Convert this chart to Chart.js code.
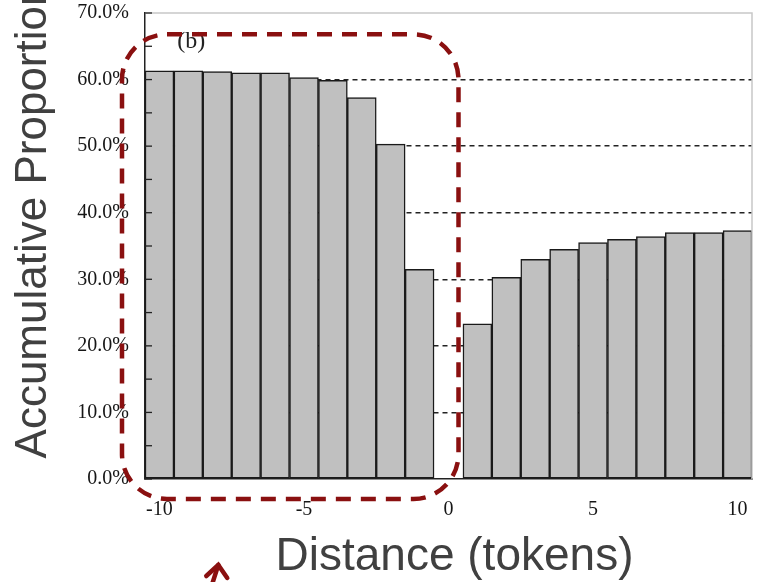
<!DOCTYPE html>
<html><head><meta charset="utf-8">
<script src="https://cdn.jsdelivr.net/npm/chart.js@4/dist/chart.umd.min.js"></script>
<style>html,body{margin:0;padding:0;background:#fff;overflow:hidden;} canvas{display:block;}</style>
</head><body>
<canvas id="c" width="757" height="582"></canvas>
<script>
const categories = ['-10','-9','-8','-7','-6','-5','-4','-3','-2','-1','0','1','2','3','4','5','6','7','8','9','10'];
const proportions = [61.3, 61.3, 61.2, 61.0, 61.0, 60.3, 59.9, 57.3, 50.3, 31.5, null, 23.3, 30.3, 33.0, 34.5, 35.5, 36.0, 36.4, 37.0, 37.0, 37.3];
const xTickLabels = ['-10','-5','0','5','10'];
const yTickMax = 70;
const yTickStep = 10;
const panelLabel = '(b)';
const xTitle = 'Distance (tokens)';
const yTitle = 'Accumulative Proportion';

const decor = {
  id: 'decor',
  afterDraw(chart) {
    const ctx = chart.ctx, a = chart.chartArea;
    const xs = chart.scales.x, ys = chart.scales.y;
    ctx.save();
    // light top/right frame
    ctx.strokeStyle = '#c8c8c8'; ctx.lineWidth = 1.5;
    ctx.beginPath(); ctx.moveTo(a.left, a.top); ctx.lineTo(a.right, a.top); ctx.lineTo(a.right, a.bottom); ctx.stroke();
    // inner minor ticks on y axis
    ctx.strokeStyle = '#222'; ctx.lineWidth = 1.3;
    for (let v = 0; v <= yTickMax; v += yTickStep / 2) {
      const y = ys.getPixelForValue(v);
      ctx.beginPath(); ctx.moveTo(a.left, y); ctx.lineTo(a.left + 7, y); ctx.stroke();
    }
    // panel label
    ctx.fillStyle = '#222';
    ctx.font = '24px "Liberation Serif", serif';
    ctx.textAlign = 'center'; ctx.textBaseline = 'middle';
    ctx.fillText(panelLabel, xs.getPixelForValue(1) + 3, ys.getPixelForValue(65.7));
    // axis titles
    ctx.fillStyle = '#404040';
    ctx.font = '46px "Liberation Sans", Arial, sans-serif';
    ctx.fillText(xTitle, (a.left + a.right) / 2 + 6, chart.height - 25);
    ctx.save();
    ctx.translate(34, (a.top + a.bottom) / 2 - 26);
    ctx.rotate(-Math.PI / 2);
    ctx.font = '44px "Liberation Sans", Arial, sans-serif';
    ctx.fillText(yTitle, 0, 0);
    ctx.restore();
    // red dashed rounded rectangle annotation
    const bw = xs.getPixelForValue(1) - xs.getPixelForValue(0);
    const L = xs.getPixelForValue(0) - bw / 2 - 23;
    const R = xs.getPixelForValue(10) + 10;
    const T = ys.getPixelForValue(66.8);
    const B = ys.getPixelForValue(0) + 20;
    const r = 45;
    ctx.strokeStyle = '#8a1010'; ctx.lineWidth = 4.5; ctx.setLineDash([15, 10]);
    ctx.beginPath();
    ctx.moveTo(L + r, T); ctx.lineTo(R - r, T); ctx.arcTo(R, T, R, T + r, r);
    ctx.lineTo(R, B - r); ctx.arcTo(R, B, R - r, B, r);
    ctx.lineTo(L + r, B); ctx.arcTo(L, B, L, B - r, r);
    ctx.lineTo(L, T + r); ctx.arcTo(L, T, L + r, T, r);
    ctx.closePath(); ctx.stroke();
    // arrow at bottom
    ctx.setLineDash([]); ctx.lineWidth = 4.5; ctx.lineCap = 'round';
    const tx = xs.getPixelForValue(2) + 1, ty = chart.height - 17;
    ctx.beginPath(); ctx.moveTo(tx - 8, ty + 25); ctx.lineTo(tx, ty); ctx.stroke();
    ctx.beginPath(); ctx.moveTo(tx - 12, ty + 11); ctx.lineTo(tx, ty); ctx.lineTo(tx + 9, ty + 13); ctx.stroke();
    ctx.restore();
  }
};

new Chart(document.getElementById('c'), {
  type: 'bar',
  data: {
    labels: categories,
    datasets: [{
      data: proportions,
      backgroundColor: '#c0c0c0',
      borderColor: '#1a1a1a',
      borderWidth: 1.5,
      borderSkipped: false,
      barPercentage: 1.0,
      categoryPercentage: 1.0
    }]
  },
  options: {
    responsive: false,
    animation: false,
    layout: { padding: { top: 13, right: 5, left: 0, bottom: 0 } },
    plugins: { legend: { display: false }, tooltip: { enabled: false } },
    scales: {
      x: {
        grid: { display: false, drawTicks: false },
        border: { display: true, color: '#222', width: 1.5 },
        ticks: {
          autoSkip: false, maxRotation: 0, padding: 19, color: '#161616',
          font: { family: '"Liberation Serif", serif', size: 20 },
          callback: function (v, i) { const l = categories[i]; return xTickLabels.includes(l) ? l : ''; }
        },
        afterFit: s => { s.height = 103; s.paddingLeft = 0; s.paddingRight = 0; }
      },
      y: {
        min: 0, max: yTickMax,
        grid: {
          drawTicks: false, lineWidth: 1.5,
          color: c => (c.tick && c.tick.value > 0 && c.tick.value < yTickMax) ? '#222' : 'rgba(0,0,0,0)'
        },
        border: { display: true, color: '#222', width: 1.5, dash: [5, 4] },
        ticks: {
          stepSize: yTickStep, padding: 16, color: '#161616',
          font: { family: '"Liberation Serif", serif', size: 20 },
          callback: v => v.toFixed(1) + '%'
        },
        afterFit: s => { s.width = 145; s.paddingTop = 0; s.paddingBottom = 0; }
      }
    }
  },
  plugins: [decor]
});
</script>
</body></html>
